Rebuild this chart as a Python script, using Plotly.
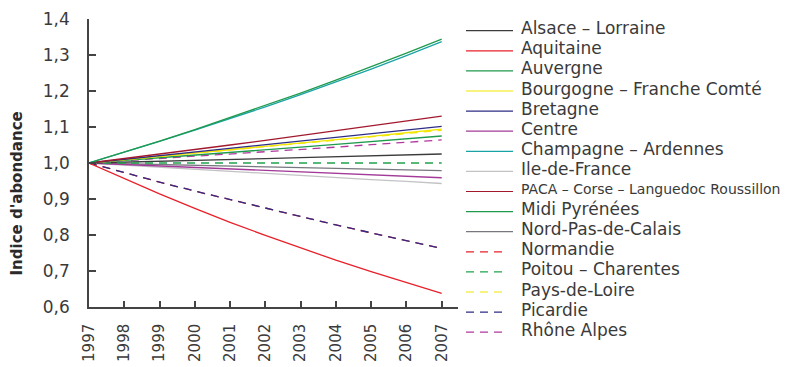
import plotly.graph_objects as go

# Years and abundance index per region (base 1997 = 1,0)
years = [1997, 1998, 1999, 2000, 2001, 2002, 2003, 2004, 2005, 2006, 2007]

alsace_lorraine = [1.000, 1.002, 1.005, 1.007, 1.010, 1.012, 1.015, 1.017, 1.020, 1.022, 1.025]
aquitaine = [1.000, 0.956, 0.914, 0.874, 0.835, 0.799, 0.764, 0.730, 0.698, 0.667, 0.638]
auvergne = [1.000, 1.030, 1.061, 1.093, 1.126, 1.159, 1.194, 1.230, 1.267, 1.305, 1.344]
bourgogne_fc = [1.000, 1.009, 1.018, 1.027, 1.037, 1.046, 1.055, 1.065, 1.074, 1.084, 1.094]
bretagne = [1.000, 1.010, 1.020, 1.030, 1.040, 1.050, 1.060, 1.071, 1.081, 1.092, 1.102]
centre = [1.000, 0.996, 0.992, 0.988, 0.983, 0.979, 0.975, 0.971, 0.967, 0.963, 0.959]
champagne_ardennes = [1.000, 1.029, 1.060, 1.091, 1.123, 1.156, 1.190, 1.225, 1.261, 1.298, 1.337]
ile_de_france = [1.000, 0.994, 0.988, 0.983, 0.977, 0.971, 0.965, 0.960, 0.954, 0.949, 0.943]
paca_corse_lr = [1.000, 1.012, 1.025, 1.037, 1.050, 1.063, 1.076, 1.089, 1.103, 1.116, 1.130]
midi_pyrenees = [1.000, 1.007, 1.015, 1.022, 1.029, 1.037, 1.044, 1.052, 1.060, 1.067, 1.075]
nord_pdc = [1.000, 0.998, 0.996, 0.994, 0.992, 0.989, 0.987, 0.985, 0.983, 0.981, 0.979]
normandie = [1.000, 0.973, 0.947, 0.922, 0.898, 0.874, 0.850, 0.828, 0.806, 0.784, 0.763]
poitou_charentes = [1.000, 1.000, 1.000, 1.000, 1.000, 1.000, 1.000, 1.000, 1.000, 1.000, 1.000]
pays_de_loire = [1.000, 1.009, 1.018, 1.027, 1.036, 1.045, 1.054, 1.063, 1.073, 1.082, 1.091]
picardie = [1.000, 0.973, 0.947, 0.922, 0.898, 0.874, 0.850, 0.828, 0.806, 0.784, 0.763]
rhone_alpes = [1.000, 1.006, 1.012, 1.019, 1.025, 1.031, 1.038, 1.044, 1.051, 1.057, 1.064]

y_ticks = [0.6, 0.7, 0.8, 0.9, 1.0, 1.1, 1.2, 1.3, 1.4]
y_tick_labels = ["0,6", "0,7", "0,8", "0,9", "1,0", "1,1", "1,2", "1,3", "1,4"]

# (label, values, colour, dashed)
series = [
    ("Alsace – Lorraine", alsace_lorraine, "#3c3c3c", False),
    ("Aquitaine", aquitaine, "#e8202a", False),
    ("Auvergne", auvergne, "#1f9a4c", False),
    ("Bourgogne – Franche Comté", bourgogne_fc, "#f2e600", False),
    ("Bretagne", bretagne, "#2e2d85", False),
    ("Centre", centre, "#a23b98", False),
    ("Champagne – Ardennes", champagne_ardennes, "#1aa3a6", False),
    ("Ile-de-France", ile_de_france, "#c3c3c6", False),
    ("PACA – Corse – Languedoc Roussillon", paca_corse_lr, "#a2192e", False),
    ("Midi Pyrénées", midi_pyrenees, "#1f9a4c", False),
    ("Nord-Pas-de-Calais", nord_pdc, "#77777f", False),
    ("Normandie", normandie, "#e8202a", True),
    ("Poitou – Charentes", poitou_charentes, "#1fa34c", True),
    ("Pays-de-Loire", pays_de_loire, "#f2e600", True),
    ("Picardie", picardie, "#2e2d85", True),
    ("Rhône Alpes", rhone_alpes, "#b0399e", True),
]

# drawing order: green above teal at the top of the chart
draw_order = [7, 10, 5, 0, 12, 15, 9, 3, 13, 4, 8, 11, 14, 1, 6, 2]

W, H = 798, 367
ML, MR, MT, MB = 89, 340, 19, 60
PW, PH = W - ML - MR, H - MT - MB
TEXT = "#3a3a3a"
FONT = "DejaVu Sans"
DASH = "8px,6px"

fig = go.Figure()
for idx in draw_order:
    name, vals, col, dashed = series[idx]
    fig.add_trace(go.Scatter(
        x=years, y=vals, mode="lines", name=name, showlegend=False,
        line=dict(color=col, width=1.3, dash=DASH if dashed else "solid"),
    ))

# hand-made legend to the right of the plot
def px_x(px):
    return (px - ML) / PW

def px_y(py):
    return (H - MB - py) / PH

shapes = []
annotations = []
row0, row_step = 30.7, 20.1
for i, (name, vals, col, dashed) in enumerate(series):
    ly = row0 + i * row_step
    shapes.append(dict(
        type="line", xref="paper", yref="paper",
        x0=px_x(466), x1=px_x(507 if dashed else 513), y0=px_y(ly), y1=px_y(ly),
        line=dict(color=col, width=1.2, dash=DASH if dashed else "solid"),
    ))
    size = 14 if name.startswith("PACA") else 17
    annotations.append(dict(
        text=name, xref="paper", yref="paper", x=px_x(519), y=px_y(ly - 2.5),
        xanchor="left", yanchor="middle", showarrow=False,
        font=dict(family=FONT, size=size, color=TEXT),
    ))

annotations.append(dict(
    text="<b>Indice d'abondance</b>", xref="paper", yref="paper",
    x=px_x(16.5), y=px_y(194), xanchor="center", yanchor="middle",
    textangle=-90, showarrow=False,
    font=dict(family=FONT, size=15, color="#2a2a2a"),
))

fig.update_layout(
    width=W, height=H,
    margin=dict(l=ML, r=MR, t=MT, b=MB, pad=0, autoexpand=False),
    paper_bgcolor="white", plot_bgcolor="white",
    shapes=shapes, annotations=annotations,
    showlegend=False,
)
fig.update_xaxes(
    range=[1997, 1997 + (458 - 89) / 35.27],
    tickmode="array", tickvals=years, ticktext=[str(y) for y in years],
    tickangle=-90, ticks="inside", ticklen=6, tickwidth=1.5, tickcolor="#444",
    showline=True, linecolor="#444", linewidth=1.5,
    showgrid=False, zeroline=False, automargin=False,
    tickfont=dict(family=FONT, size=15, color=TEXT),
    ticklabelstandoff=9,
)
fig.update_yaxes(
    range=[0.6, 1.4],
    tickmode="array", tickvals=y_ticks, ticktext=y_tick_labels,
    ticks="inside", ticklen=7, tickwidth=1.5, tickcolor="#444",
    showline=True, linecolor="#444", linewidth=1.5,
    showgrid=False, zeroline=False, automargin=False,
    tickfont=dict(family=FONT, size=17, color=TEXT),
    ticklabelstandoff=14,
)

fig.write_html("out.html")
